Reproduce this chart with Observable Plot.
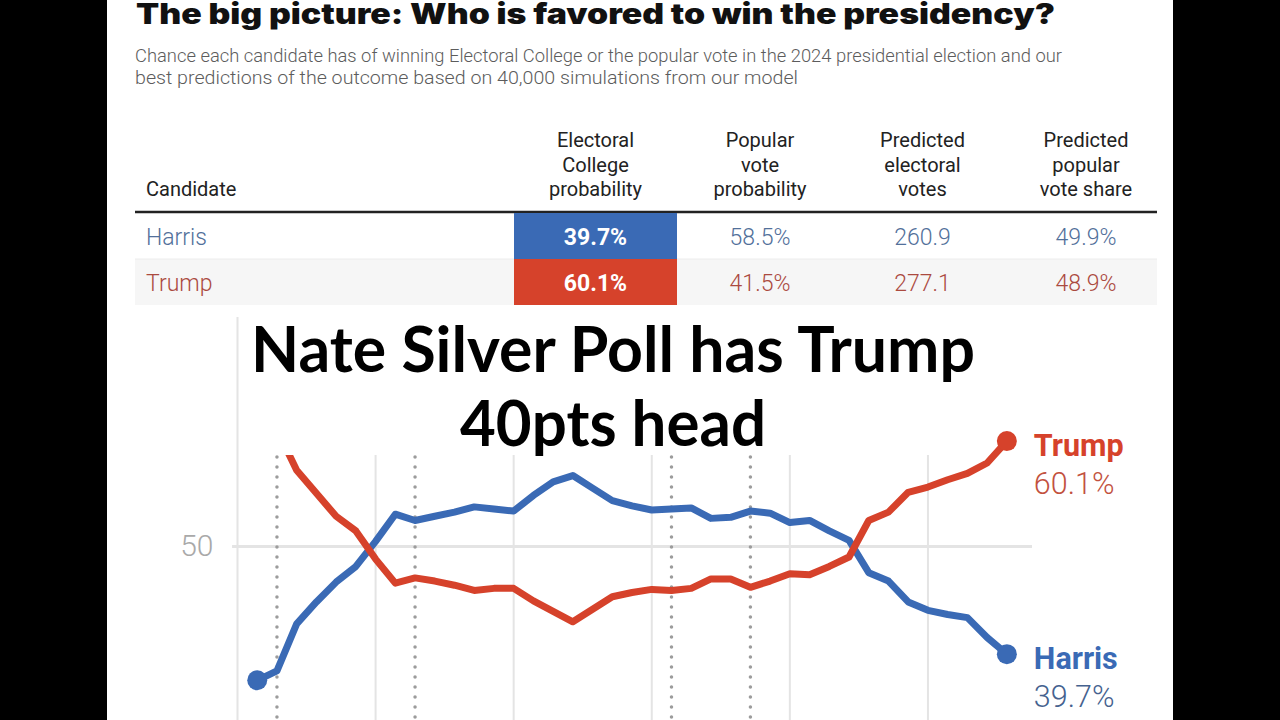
<!DOCTYPE html>
<html>
<head>
<meta charset="utf-8">
<script src="https://cdn.jsdelivr.net/npm/d3@7"></script>
<script src="https://cdn.jsdelivr.net/npm/@observablehq/plot@0.6"></script>
<style>
  html, body { margin: 0; padding: 0; background: #000; width: 1280px; height: 720px; overflow: hidden; }
  #panel { position: absolute; left: 107px; top: 0; width: 1066px; height: 720px; background: #fff; }
  #header { position: absolute; left: 0; top: 0; }
  #chart { position: absolute; left: 107px; top: 317px; width: 1066px; height: 403px; overflow: hidden; }
  #overlay { position: absolute; left: 0; top: 0; }
</style>
</head>
<body>
<div id="panel"></div>
<svg id="header" width="1280" height="317"></svg>
<div id="chart"></div>
<svg id="overlay" width="1280" height="720"></svg>
<script>
// ---------------- data ----------------
const titleText = "The big picture: Who is favored to win the presidency?";
const subtitleLines = [
  "Chance each candidate has of winning Electoral College or the popular vote in the 2024 presidential election and our",
  "best predictions of the outcome based on 40,000 simulations from our model"
];
const overlayLines = ["Nate Silver Poll has Trump", "40pts head"];

const candidates = ["Harris", "Trump"];
const columnHeaders = [
  ["Electoral", "College", "probability"],
  ["Popular", "vote", "probability"],
  ["Predicted", "electoral", "votes"],
  ["Predicted", "popular", "vote share"]
];
const ecProb = [39.7, 60.1];
const popProb = [58.5, 41.5];
const predictedEV = [260.9, 277.1];
const popShare = [49.9, 48.9];

const days = [1,2,3,4,5,6,7,8,9,10,11,12,13,14,15,16,17,18,19,20,21,22,23,24,25,26,27,28,29,30,31,32,33,34,35,36,37,38,39];
const harrisPct = [37.2,38.1,42.6,44.7,46.6,48.1,50.5,53.1,52.5,52.9,53.3,53.8,53.6,53.4,54.9,56.2,56.8,55.6,54.4,53.9,53.5,53.6,53.7,52.7,52.8,53.4,53.2,52.3,52.5,51.5,50.6,47.5,46.7,44.7,43.9,43.5,43.2,41.3,39.7];
const trumpPct  = [62.6,61.2,57.3,55.1,52.9,51.5,48.8,46.5,47.0,46.7,46.3,45.8,46.0,46.0,44.8,43.8,42.8,44.0,45.2,45.6,45.9,45.8,46.0,46.9,46.9,46.1,46.7,47.4,47.3,48.1,49.0,52.5,53.3,55.2,55.7,56.4,57.0,58.0,60.1];
const eventDays = [2, 9, 22, 26];
const gridDays = [0, 7, 14, 21, 28, 35];
const yTicks = [50];

// ---------------- styles ----------------
const BLUE = "#3a6ab5", RED = "#d6422b";
const NAME_COLORS = {Harris: "#52709a", Trump: "#ab4a3f"};

// ---------------- header (title, subtitle, table) ----------------
const hdr = d3.select("#header");
hdr.append("text").attr("x", 136).attr("y", 24)
  .attr("font-family", "Inter, Lato, 'DejaVu Sans', sans-serif").attr("font-weight", 900)
  .attr("font-size", 28).attr("fill", "#111")
  .attr("textLength", 919).attr("lengthAdjust", "spacingAndGlyphs")
  .text(titleText);
const subW = [927, 663];
subtitleLines.forEach((t, i) => {
  hdr.append("text").attr("x", 135).attr("y", 62 + i * 22)
    .attr("font-family", "Roboto, sans-serif").attr("font-weight", 300)
    .attr("font-size", 18).attr("fill", "#5c5c5c")
    .attr("textLength", subW[i]).attr("lengthAdjust", "spacingAndGlyphs")
    .text(t);
});

// table
const colCenters = [595.5, 760, 922.5, 1086];
const rowTop = [213, 259], rowH = 46;
hdr.append("rect").attr("x", 135).attr("y", rowTop[1]).attr("width", 1022).attr("height", rowH).attr("fill", "#f6f6f6");
hdr.append("line").attr("x1", 135).attr("x2", 1157).attr("y1", 259).attr("y2", 259).attr("stroke", "#ececec");
hdr.append("line").attr("x1", 135).attr("x2", 1157).attr("y1", 212).attr("y2", 212).attr("stroke", "#222").attr("stroke-width", 2.5);
hdr.append("text").attr("x", 146).attr("y", 196).attr("font-family", "Roboto, sans-serif")
  .attr("font-size", 20).attr("fill", "#222").text("Candidate");
columnHeaders.forEach((lines, c) => {
  lines.forEach((ln, j) => {
    hdr.append("text").attr("x", colCenters[c]).attr("y", 147 + j * 24.5)
      .attr("text-anchor", "middle").attr("font-family", "Roboto, sans-serif")
      .attr("font-size", 20).attr("fill", "#222").text(ln);
  });
});
candidates.forEach((cand, r) => {
  const base = rowTop[r] + 32;
  hdr.append("rect").attr("x", 514).attr("y", rowTop[r]).attr("width", 163).attr("height", rowH)
    .attr("fill", cand === "Harris" ? BLUE : RED);
  hdr.append("text").attr("x", 146).attr("y", base).attr("font-family", "Roboto, sans-serif")
    .attr("font-weight", 300).attr("font-size", 23).attr("fill", NAME_COLORS[cand]).text(cand);
  hdr.append("text").attr("x", colCenters[0]).attr("y", base).attr("text-anchor", "middle")
    .attr("font-family", "Roboto, sans-serif").attr("font-weight", 700).attr("font-size", 23)
    .attr("fill", "#fff").text(ecProb[r].toFixed(1) + "%");
  const vals = [popProb[r].toFixed(1) + "%", predictedEV[r].toFixed(1), popShare[r].toFixed(1) + "%"];
  vals.forEach((v, k) => {
    hdr.append("text").attr("x", colCenters[k + 1]).attr("y", base).attr("text-anchor", "middle")
      .attr("font-family", "Roboto, sans-serif").attr("font-weight", 300).attr("font-size", 23)
      .attr("fill", NAME_COLORS[cand]).text(v);
  });
});

// ---------------- chart ----------------
const series = [];
candidates.forEach(c => days.forEach((d, i) => series.push({day: d, pct: (c === "Harris" ? harrisPct : trumpPct)[i], who: c})));
const firstLast = series.filter(d => d.day === days[0] || d.day === days[days.length - 1]);
const lastPts = series.filter(d => d.day === days[days.length - 1]);

const chart = Plot.plot({
  width: 1066, height: 438,
  marginLeft: 130, marginRight: 141, marginTop: 0, marginBottom: 0,
  x: {domain: [0, 40.3], axis: null},
  y: {domain: [30, 71.93], axis: null},
  color: {domain: candidates, range: [BLUE, RED]},
  style: {background: "transparent", fontFamily: "Roboto, sans-serif", overflow: "visible"},
  marks: [
    Plot.ruleX(gridDays, {stroke: "#e4e4e4", strokeWidth: 2}),
    Plot.ruleY(yTicks, {x1: -0.25, x2: 40.3, stroke: "#e4e4e4", strokeWidth: 3}),
    Plot.ruleX(eventDays, {stroke: "#9c9c9c", strokeWidth: 3.5, strokeDasharray: "0,10", strokeLinecap: "round"}),
    Plot.text(yTicks, {x: 0, y: d => d, text: d => String(d), dx: -24, textAnchor: "end",
      fontSize: 30, fontWeight: 300, fill: "#a9a9a9"}),
    Plot.line(series, {x: "day", y: "pct", z: "who", stroke: "who", strokeWidth: 7,
      strokeLinejoin: "round", strokeLinecap: "round"}),
    Plot.dot(firstLast, {x: "day", y: "pct", fill: "who", r: 10}),
    Plot.text(lastPts, {x: "day", y: "pct", text: "who", fill: "who", dx: 27, dy: 5,
      textAnchor: "start", fontSize: 30.5, fontWeight: 700}),
    Plot.text(lastPts.filter(d => d.who === "Trump"), {x: "day", y: "pct", text: d => d.pct.toFixed(1) + "%",
      fill: "#c2513e", dx: 27, dy: 43, textAnchor: "start", fontSize: 30.5, fontWeight: 300}),
    Plot.text(lastPts.filter(d => d.who === "Harris"), {x: "day", y: "pct", text: d => d.pct.toFixed(1) + "%",
      fill: "#45628f", dx: 27, dy: 43, textAnchor: "start", fontSize: 30.5, fontWeight: 300})
  ]
});
document.getElementById("chart").appendChild(chart);

// ---------------- overlay caption box ----------------
const ov = d3.select("#overlay");
ov.append("rect").attr("x", 240).attr("y", 317).attr("width", 745).attr("height", 138).attr("fill", "#fff");
const ovBase = [372, 446], ovW = [724, 306];
overlayLines.forEach((t, i) => {
  ov.append("text").attr("x", 613).attr("y", ovBase[i]).attr("text-anchor", "middle")
    .attr("font-family", "Lato, 'Open Sans', sans-serif").attr("font-weight", 700)
    .attr("font-size", 64).attr("fill", "#000")
    .attr("textLength", ovW[i]).attr("lengthAdjust", "spacingAndGlyphs")
    .text(t);
});
</script>
</body>
</html>
